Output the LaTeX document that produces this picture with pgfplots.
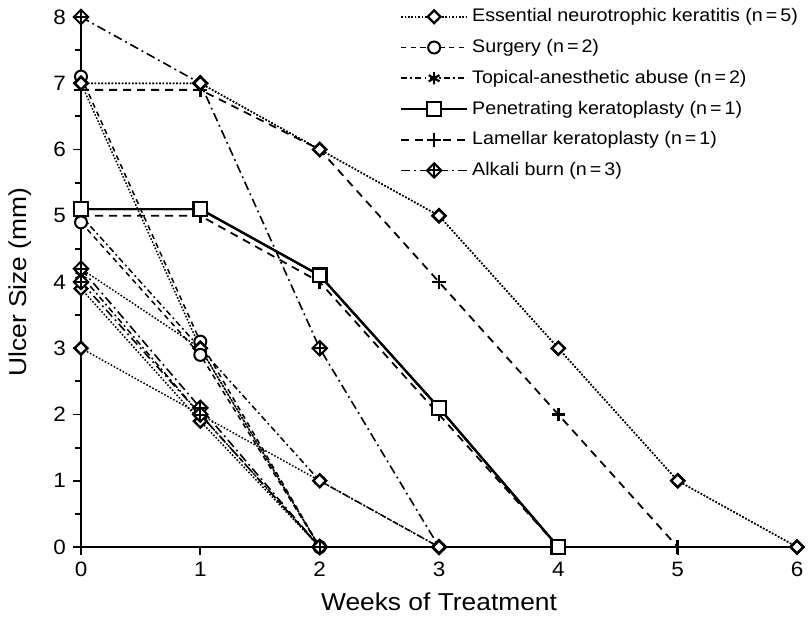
\documentclass[border=0pt]{standalone}
\usepackage{fontspec}
\setmainfont{Liberation Sans}[FakeStretch=1.08]
\usepackage{pgfplots}
\pgfplotsset{compat=1.18}
\pgfdeclareplotmark{rdiamond}{%
  \pgfpathmoveto{\pgfqpoint{\pgfplotmarksize}{0pt}}%
  \pgfpathlineto{\pgfqpoint{0pt}{\pgfplotmarksize}}%
  \pgfpathlineto{\pgfqpoint{-\pgfplotmarksize}{0pt}}%
  \pgfpathlineto{\pgfqpoint{0pt}{-\pgfplotmarksize}}%
  \pgfpathclose
  \pgfusepathqfillstroke}
\pgfdeclareplotmark{diamondplus}{%
  \pgfpathmoveto{\pgfqpoint{\pgfplotmarksize}{0pt}}%
  \pgfpathlineto{\pgfqpoint{0pt}{\pgfplotmarksize}}%
  \pgfpathlineto{\pgfqpoint{-\pgfplotmarksize}{0pt}}%
  \pgfpathlineto{\pgfqpoint{0pt}{-\pgfplotmarksize}}%
  \pgfpathclose
  \pgfusepathqfillstroke
  \pgfpathmoveto{\pgfqpoint{\pgfplotmarksize}{0pt}}%
  \pgfpathlineto{\pgfqpoint{-\pgfplotmarksize}{0pt}}%
  \pgfpathmoveto{\pgfqpoint{0pt}{\pgfplotmarksize}}%
  \pgfpathlineto{\pgfqpoint{0pt}{-\pgfplotmarksize}}%
  \pgfusepathqstroke}
\tikzset{
  enk/.style={black, line width=0.75bp, dash pattern=on 0.8bp off 0.9bp, mark=rdiamond, mark size=3.2bp, mark options={solid, fill=white, line width=1.2bp}},
  surg/.style={black, line width=0.75bp, dash pattern=on 2.6bp off 2.2bp, mark=*, mark size=3bp, mark options={solid, fill=white, line width=1bp}},
  topi/.style={black, line width=0.75bp, dash pattern=on 3bp off 1.6bp on 0.9bp off 1.6bp, mark=asterisk, mark size=3.1bp, mark options={solid, line width=1.1bp}},
  pene/.style={black, line width=1.1bp, solid, mark=square*, mark size=3.4bp, mark options={solid, fill=white, line width=1.1bp}},
  lame/.style={black, line width=0.9bp, dash pattern=on 4bp off 3bp, mark=+, mark size=3.4bp, mark options={solid, line width=1.2bp}},
  alka/.style={black, line width=0.8bp, dash pattern=on 4.5bp off 2bp on 0.9bp off 2bp, mark=diamondplus, mark size=3.6bp, mark options={solid, fill=white, line width=1bp}},
}
\begin{document}
\begin{tikzpicture}
\begin{axis}[
  name=ax,
  scale only axis,
  width=358bp, height=265bp,
  xmin=0, xmax=6, ymin=0, ymax=8,
  axis x line=bottom, axis y line=left,
  axis line style={-, line width=1bp},
  xtick={0,1,2,3,4,5,6},
  ytick={0,1,2,3,4,5,6,7,8},
  minor y tick num=1,
  tick align=outside,
  major tick length=4bp, minor tick length=3bp,
  tick style={line width=0.9bp, black},
  ticklabel style={font=\fontsize{10.4bp}{12bp}\selectfont},
  /pgf/number format/assume math mode=true,
  xlabel={Weeks of Treatment},
  ylabel={Ulcer Size (mm)},
  label style={font=\fontsize{12.2bp}{14bp}\selectfont},
  xlabel style={at={(axis description cs:0.5,-0.104)}, anchor=center},
  ylabel style={at={(axis description cs:-0.0852,0.5)}, anchor=center},
  clip=false,
  legend cell align=left,
  legend style={draw=none, fill=none, at={(0.445,1.024)}, anchor=north west,
    font=\fontsize{9.1bp}{11bp}\selectfont, row sep=3.3bp, inner sep=0pt},
  legend image code/.code={\draw[mark repeat=2, mark phase=2, #1] plot coordinates {(0bp,0bp) (16.5bp,0bp) (33bp,0bp)};},
]
% legend series
\addplot[enk] coordinates {(0,7) (1,7) (2,6) (3,5) (4,3) (5,1) (6,0)};
\addlegendentry{Essential neurotrophic keratitis (n\,=\,5)}
\addplot[surg] coordinates {(0,7.1) (1,3.1) (2,0)};
\addlegendentry{Surgery (n\,=\,2)}
\addplot[topi] coordinates {(0,5) (1,3) (2,1) (3,0)};
\addlegendentry{Topical-anesthetic abuse (n\,=\,2)}
\addplot[pene] coordinates {(0,5.1) (1,5.1) (2,4.1) (3,2.1) (4,0)};
\addlegendentry{Penetrating keratoplasty (n\,=\,1)}
\addplot[lame] coordinates {(0,6.9) (1,6.9) (2,6) (3,4) (4,2) (5,0)};
\addlegendentry{Lamellar keratoplasty (n\,=\,1)}
\addplot[alka] coordinates {(0,8) (1,7) (2,3) (3,0)};
\addlegendentry{Alkali burn (n\,=\,3)}
% other cases
\addplot[lame, forget plot] coordinates {(0,5) (1,5) (2,4) (3,2) (4,0)};
\addplot[pene, forget plot] coordinates {(0,5.1) (1,5.1) (2,4.1) (3,2.1) (4,0)};
\addplot[enk, forget plot] coordinates {(0,7) (1,3) (2,0)};
\addplot[enk, forget plot] coordinates {(0,4.2) (1,3) (2,0)};
\addplot[enk, forget plot] coordinates {(0,3.9) (1,1.9) (2,0)};
\addplot[enk, forget plot] coordinates {(0,3) (1,2) (2,1) (3,0)};
\addplot[surg, forget plot] coordinates {(0,4.9) (1,2.9) (2,0)};
\addplot[topi, forget plot] coordinates {(0,4.1) (1,2) (2,0)};
\addplot[alka, forget plot] coordinates {(0,4.2) (1,2.1) (2,0)};
\addplot[alka, forget plot] coordinates {(0,4.0) (1,2.0) (2,0)};
\addplot[enk, forget plot] coordinates {(0,7) (1,7) (2,6) (3,5) (4,3) (5,1) (6,0)};
\end{axis}
\pgfresetboundingbox
\path[use as bounding box] ([shift={(-40.5bp,-37bp)}]ax.south west) rectangle ([shift={(6.5bp,8.5bp)}]ax.north east);
\end{tikzpicture}
\end{document}
